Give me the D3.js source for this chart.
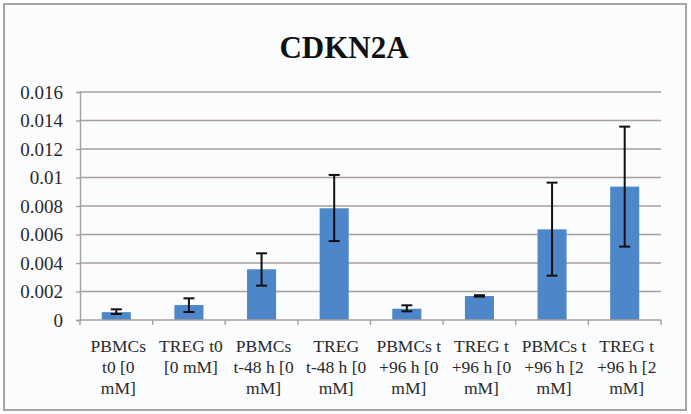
<!DOCTYPE html>
<html>
<head>
<meta charset="utf-8">
<script src="https://cdn.jsdelivr.net/npm/d3@7"></script>
<style>
  html, body { margin: 0; padding: 0; background: #ffffff; }
  svg { display: block; }
</style>
</head>
<body>
<svg id="chart" width="691" height="414"></svg>
<script>
// CDKN2A expression per sample group, with error bars
const categories = [
  "PBMCs t0 [0 mM]",
  "TREG t0 [0 mM]",
  "PBMCs t-48 h [0 mM]",
  "TREG t-48 h [0 mM]",
  "PBMCs t +96 h [0 mM]",
  "TREG t +96 h [0 mM]",
  "PBMCs t +96 h [2 mM]",
  "TREG t +96 h  [2 mM]"
];
// wrapped lines of each category label
const categoryLines = [
  ["PBMCs", "t0 [0", "mM]"],
  ["TREG t0", "[0 mM]"],
  ["PBMCs", "t-48 h [0", "mM]"],
  ["TREG", "t-48 h [0", "mM]"],
  ["PBMCs t", "+96 h [0", "mM]"],
  ["TREG t", "+96 h [0", "mM]"],
  ["PBMCs t", "+96 h [2", "mM]"],
  ["TREG t", "+96 h  [2", "mM]"]
];
const values   = [0.00055, 0.00105, 0.00356, 0.00784, 0.00079, 0.00168, 0.00636, 0.00936];
const errLow   = [0.00042, 0.00056, 0.00241, 0.00554, 0.00061, 0.00164, 0.00311, 0.00515];
const errHigh  = [0.00075, 0.00152, 0.00468, 0.01018, 0.00103, 0.00174, 0.00964, 0.01357];
const yTicks   = [0, 0.002, 0.004, 0.006, 0.008, 0.01, 0.012, 0.014, 0.016];
const title = "CDKN2A";

const svg = d3.select("#chart");
const margin = { left: 80, top: 92 };
const plotW = 661 - margin.left;
const plotH = 320 - margin.top;
const serif = "'Liberation Serif', 'DejaVu Serif', serif";

// chart area frame
svg.append("rect")
  .attr("x", 4).attr("y", 4)
  .attr("width", 682).attr("height", 406)
  .attr("fill", "#fbfcfe")
  .attr("stroke", "#a7a4a2")
  .attr("stroke-width", 2);

svg.append("text")
  .attr("x", 344).attr("y", 58)
  .attr("text-anchor", "middle")
  .style("font-family", serif)
  .attr("font-weight", "bold")
  .attr("font-size", 31)
  .attr("fill", "#111")
  .text(title);

const x = d3.scaleBand().domain(categories).range([0, plotW]).paddingInner(0.6).paddingOuter(0.3);
const xOuter = d3.scaleBand().domain(categories).range([0, plotW]);
const y = d3.scaleLinear().domain([0, 0.016]).range([plotH, 0]);

const g = svg.append("g").attr("transform", `translate(${margin.left},${margin.top})`);

// horizontal gridlines
g.append("g")
  .selectAll("line")
  .data(yTicks.filter(d => d > 0))
  .join("line")
  .attr("x1", 0).attr("x2", plotW)
  .attr("y1", d => y(d)).attr("y2", d => y(d))
  .attr("stroke", "#a89f9b")
  .attr("stroke-width", 1.4);

// y axis
const yAxis = g.append("g")
  .call(d3.axisLeft(y).tickValues(yTicks).tickSize(4).tickPadding(13)
    .tickFormat(d => d === 0 ? "0" : String(+d.toFixed(3))));
yAxis.select(".domain").attr("stroke", "#a89f9b").attr("stroke-width", 1.4);
yAxis.selectAll(".tick line").attr("stroke", "#a89f9b").attr("stroke-width", 1.4);
yAxis.selectAll(".tick text")
  .style("font-family", serif)
  .attr("font-size", 19)
  .attr("fill", "#2a2a2a");

// bars
g.append("g")
  .selectAll("rect")
  .data(categories)
  .join("rect")
  .attr("x", d => x(d))
  .attr("width", x.bandwidth())
  .attr("y", (d, i) => y(values[i]))
  .attr("height", (d, i) => y(0) - y(values[i]))
  .attr("fill", "#4d86c9");

// x axis line with ticks at category boundaries
g.append("line")
  .attr("x1", 0).attr("x2", plotW)
  .attr("y1", y(0)).attr("y2", y(0))
  .attr("stroke", "#a89f9b").attr("stroke-width", 1.4);
const boundaries = categories.map(c => xOuter(c)).concat([plotW]);
g.append("g")
  .selectAll("line")
  .data(boundaries)
  .join("line")
  .attr("x1", d => d).attr("x2", d => d)
  .attr("y1", y(0)).attr("y2", y(0) + 5)
  .attr("stroke", "#a89f9b").attr("stroke-width", 1.4);

// error bars
const eb = g.append("g").attr("stroke", "#111").attr("stroke-width", 2);
categories.forEach((c, i) => {
  const cx = x(c) + x.bandwidth() / 2;
  eb.append("line").attr("x1", cx).attr("x2", cx)
    .attr("y1", y(errLow[i])).attr("y2", y(errHigh[i]));
  [errLow[i], errHigh[i]].forEach(v => {
    eb.append("line").attr("x1", cx - 5.5).attr("x2", cx + 5.5)
      .attr("y1", y(v)).attr("y2", y(v));
  });
});

// category labels
const lab = g.append("g")
  .style("font-family", serif)
  .attr("font-size", 17.5)
  .attr("fill", "#2a2a2a")
  .attr("text-anchor", "middle");
categories.forEach((c, i) => {
  const cx = xOuter(c) + xOuter.bandwidth() / 2 + 2;
  const t = lab.append("text").attr("x", cx).attr("y", plotH + 32);
  categoryLines[i].forEach((ln, k) => {
    t.append("tspan").attr("x", cx).attr("dy", k === 0 ? 0 : 21).text(ln);
  });
});
</script>
</body>
</html>
